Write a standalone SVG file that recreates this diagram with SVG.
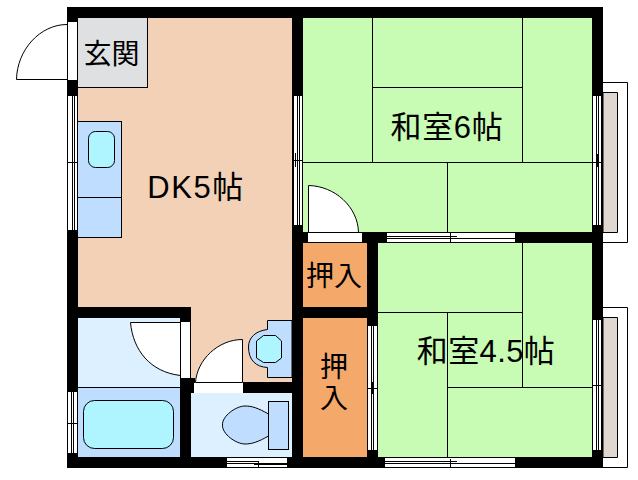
<svg xmlns="http://www.w3.org/2000/svg" width="638" height="480" viewBox="0 0 638 480">
<style>
.l{stroke:#000;stroke-width:1;fill:none}
.f{stroke:#000;stroke-width:1}
.w{fill:#000}
.o{fill:#fff}
.t{font-family:"Liberation Sans","Noto Sans CJK JP",sans-serif;font-size:31px;fill:#000}
.s{font-size:28px}
.tat{fill:#c8fbb4}
</style>
<rect width="638" height="480" fill="#fff"/>
<g id="floors">
<rect x="78" y="18" width="214" height="364" fill="#f2d1b6"/>
<rect class="tat" x="303" y="18" width="289" height="214"/>
<rect class="tat" x="378" y="243" width="214" height="214"/>
<rect x="78" y="318" width="102" height="139" fill="#ddf0ff"/>
<rect x="191" y="393" width="101" height="64" fill="#ddf0ff"/>
</g>
<g id="walls">
<rect class="w" x="67" y="7" width="536" height="11"/>
<rect class="w" x="67" y="7" width="11" height="461"/>
<rect class="w" x="592" y="7" width="11" height="461"/>
<rect class="w" x="292" y="7" width="11" height="461"/>
<rect class="w" x="67" y="457" width="536" height="11"/>
<rect class="w" x="78" y="307" width="113" height="11"/>
<rect class="w" x="180" y="307" width="11" height="161"/>
<rect class="w" x="191" y="378" width="4" height="15"/>
<rect class="w" x="243" y="382" width="49" height="11"/>
<rect class="w" x="292" y="232" width="311" height="11"/>
<rect class="w" x="367" y="232" width="11" height="236"/>
<rect class="w" x="303" y="307" width="75" height="11"/>
</g>
<g id="windows">
<rect class="o" x="68" y="22" width="9" height="58"/>
<rect class="o" x="68" y="96" width="9" height="134"/>
<path class="l" d="M67.500 96V230M72.500 96V230M74.500 96V230M77.500 96V230M68 162.500H77M72.500 156V169"/>
<rect class="o" x="68" y="392" width="9" height="61"/>
<path class="l" d="M67.500 392V453M71.500 392V453M73.500 392V453M77.500 392V453M68 423.500H78M71.500 420V427"/>
<rect class="o" x="293" y="96" width="9" height="129"/>
<path class="l" d="M293.500 96V225M297.500 96V225M299.500 96V225M302.500 96V225M293 160.500H303M295.500 153V167"/>
<rect class="o" x="593" y="96" width="9" height="129"/>
<path class="l" d="M592.500 96V225M596.500 96V225M598.500 96V225M601.500 96V225M593 162.500H603M597.500 154V167"/>
<rect class="o" x="387" y="232.500" width="128" height="10"/>
<path class="l" d="M387 232.500H515M387 236.500H457M387 238.500H515M387 242.500H515M450.500 233V242M444 236.500H457"/>
<rect class="o" x="385" y="458" width="130" height="9"/>
<path class="l" d="M385 457.500H515M385 461.500H448M385 463.500H515M385 467.500H515M450.500 459V467M443 461.500H457"/>
<rect class="o" x="368" y="326" width="9" height="124"/>
<path class="l" d="M367.500 326V450M371.500 326V450M373.500 326V450M377.500 326V450M368 388.500H378M372.500 382V394"/>
<rect class="o" x="593" y="320" width="9" height="130"/>
<path class="l" d="M592.500 320V450M596.500 320V450M598.500 320V450M601.500 320V450M593 385.500H603M598.500 378V392"/>
<rect class="o" x="227" y="457" width="60" height="10"/>
<path class="l" d="M227 457.500H287M227 461.500H259M227 463.500H287M227 467.500H287M258.500 461V467M254 464.500H287"/>
</g>
<g id="balcony-upper">
<path class="l" d="M603 82.500H627.500V242.500H603"/>
<path d="M603 92.500H617.500V232.500H603Z" fill="#e0d8d0" stroke="#000"/>
</g>
<g id="balcony-lower">
<path class="l" d="M603 307.500H627.500V467.500H603"/>
<path d="M603 317.500H617.500V457.500H603Z" fill="#e0d8d0" stroke="#000"/>
</g>
<g id="entrance">
<rect class="f" x="77.500" y="17.500" width="70" height="70" fill="#dfe0e2"/>
<path class="l" d="M67 24.500C40 24.500 17 50 16.500 79.500H67"/>
<text class="t s" x="111.500" y="64" text-anchor="middle">玄関</text>
</g>
<g id="kitchen">
<rect class="f" x="77.500" y="121.500" width="44" height="116" fill="#bfddff"/>
<path class="l" d="M78 197.500H121"/>
<rect class="f" x="88.500" y="131.500" width="26" height="36" rx="7" fill="#aef5ff"/>
</g>
<g id="dk">
<text class="t" x="196" y="198" text-anchor="middle" letter-spacing="1.500">DK5帖</text>
</g>
<g id="toilet-basin">
<path class="f" d="M292 320.500H267.500V329.500C255 331 248.500 338 248.500 347C248.500 360 256 367 267.500 367.500V377.500H292Z" fill="#bfddff"/>
<path class="f" d="M263.500 335.500H275.500L281.500 341V358L275.500 362.500H263.500L256.500 358V341Z" fill="#aef5ff"/>
</g>
<g id="washroom">
<path class="f" d="M130.500 322.500H180.500V375.500C150 372 133 350 130.500 322.500Z" fill="#fff"/>
<rect class="o" x="181" y="322" width="10" height="56"/>
<path class="l" d="M180.500 322V378M190.500 322V378"/>
</g>
<g id="bath">
<rect class="f" x="77.500" y="387.500" width="103" height="70" fill="#bfddff"/>
<rect class="f" x="83.500" y="400.500" width="90" height="48" rx="11" fill="#aef5ff"/>
</g>
<g id="dk-door">
<path class="f" d="M195.500 382.500C197 360 218 339.500 242.500 339.500V382.500Z" fill="#fff"/>
<rect class="o" x="194" y="383" width="49" height="10"/>
</g>
<g id="toilet">
<path class="f" d="M268.500 414C258 408 252 406 245 406C236 406 222 416 222.500 425C222 434 236 444 245 444C252 444 258 442 268.500 436Z" fill="#bfddff"/>
<rect class="f" x="268.500" y="401.500" width="20" height="48" fill="#bfddff"/>
</g>
<g id="room-6">
<path class="l" d="M372.500 18V162M522.500 18V162M372 87.500H522M303 162.500H592M447.500 162V232"/>
<path class="f" d="M308.500 232.500V185.500C335 186 358 207 358.500 232.500Z" fill="#fff"/>
<rect class="o" x="308" y="233" width="54" height="9"/>
<path class="l" d="M308 232.500H362"/>
<text class="t" x="447" y="138" text-anchor="middle" letter-spacing="0.700">和室6帖</text>
</g>
<g id="closet-upper">
<rect x="303" y="243" width="64" height="64" fill="#f4a96b"/>
<text class="t s" x="334" y="286" text-anchor="middle">押入</text>
</g>
<g id="closet-lower">
<rect x="303" y="318" width="64" height="139" fill="#f4a96b"/>
<text class="t s" x="334" y="377" text-anchor="middle">押</text>
<text class="t s" x="334" y="408" text-anchor="middle">入</text>
</g>
<g id="room-4-5">
<path class="l" d="M378 312.500H522M447.500 312V457M522.500 243V387M447 387.500H592"/>
<text class="t" x="486" y="362" text-anchor="middle" letter-spacing="0.400">和室4.5帖</text>
</g>
</svg>
